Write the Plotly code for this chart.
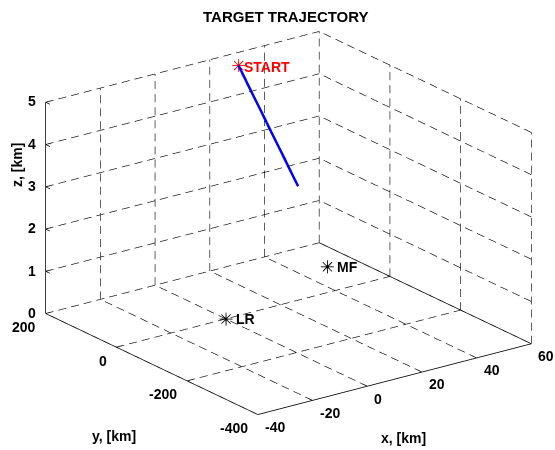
import plotly.graph_objects as go

# ---- data ----
x_ticks = [-40, -20, 0, 20, 40, 60]
y_ticks = [-400, -200, 0, 200]
z_ticks = [0, 1, 2, 3, 4, 5]

traj_x = [24, 20]
traj_y = [150, -50]
traj_z = [5, 3]

radar_names = ["LR", "MF"]
radar_x = [0, 50]
radar_y = [0, 100]
radar_z = [0, 0]

start_label = "START"
title_text = "TARGET TRAJECTORY"
x_title, y_title, z_title = "x, [km]", "y, [km]", "z, [km]"

xmin, xmax = x_ticks[0], x_ticks[-1]
ymin, ymax = y_ticks[0], y_ticks[-1]
zmin, zmax = z_ticks[0], z_ticks[-1]

# approximate on-screen pixels per data unit, used only to space the dashes
PX_PER_UNIT = (2.8, 0.39, 42.0)
DASH_ON, DASH_PERIOD = 8.0, 13.0

gx, gy, gz = [], [], []
def dashed(p, q):
    d = [q[i] - p[i] for i in range(3)]
    L = sum((d[i] * PX_PER_UNIT[i]) ** 2 for i in range(3)) ** 0.5
    n = int(L // DASH_PERIOD) + 1
    for j in range(n):
        t0 = j * DASH_PERIOD / L
        t1 = min((j * DASH_PERIOD + DASH_ON) / L, 1.0)
        if t0 >= 1.0:
            break
        for t in (t0, t1):
            gx.append(p[0] + d[0] * t); gy.append(p[1] + d[1] * t); gz.append(p[2] + d[2] * t)
        gx.append(None); gy.append(None); gz.append(None)

# wall y = ymax
for xv in x_ticks[1:]:
    dashed((xv, ymax, zmin), (xv, ymax, zmax))
for zv in z_ticks:
    dashed((xmin, ymax, zv), (xmax, ymax, zv))
# wall x = xmax
for yv in y_ticks:
    dashed((xmax, yv, zmin), (xmax, yv, zmax))
for zv in z_ticks[1:]:
    dashed((xmax, ymin, zv), (xmax, ymax, zv))
# floor
for xv in x_ticks[1:]:
    dashed((xv, ymin, zmin), (xv, ymax, zmin))
for yv in y_ticks[1:]:
    dashed((xmin, yv, zmin), (xmax, yv, zmin))

# solid axis edges and tick marks
sx, sy, sz = [], [], []
def sseg(p, q):
    sx.extend([p[0], q[0], None]); sy.extend([p[1], q[1], None]); sz.extend([p[2], q[2], None])
sseg((xmin, ymax, zmin), (xmin, ymax, zmax))
sseg((xmin, ymin, zmin), (xmin, ymax, zmin))
sseg((xmin, ymin, zmin), (xmax, ymin, zmin))
sseg((xmax, ymin, zmin), (xmax, ymax, zmin))
TX = 0.02 * (xmax - xmin)
TY = 0.02 * (ymax - ymin)
for zv in z_ticks:
    sseg((xmin, ymax, zv), (xmin + TX, ymax, zv))
    sseg((xmin, ymax, zv), (xmin, ymax - TY, zv))
for yv in y_ticks:
    sseg((xmin, yv, zmin), (xmin + TX, yv, zmin))
for xv in x_ticks:
    sseg((xv, ymin, zmin), (xv, ymin + TY, zmin))

fig = go.Figure()
fig.add_trace(go.Scatter3d(x=gx, y=gy, z=gz, mode="lines", connectgaps=False,
                           line=dict(color="black", width=1.3),
                           hoverinfo="skip", showlegend=False))
fig.add_trace(go.Scatter3d(x=sx, y=sy, z=sz, mode="lines", connectgaps=False,
                           line=dict(color="black", width=1.6),
                           hoverinfo="skip", showlegend=False))
fig.add_trace(go.Scatter3d(x=traj_x, y=traj_y, z=traj_z, mode="lines",
                           line=dict(color="rgb(0,0,255)", width=5),
                           hoverinfo="skip", showlegend=False))
fig.add_trace(go.Scatter3d(x=[traj_x[0]], y=[traj_y[0]], z=[traj_z[0]], mode="text",
                           text=["✳"], textposition="middle center",
                           textfont=dict(color="red", size=18, family="DejaVu Sans"),
                           hoverinfo="skip", showlegend=False))
fig.add_trace(go.Scatter3d(x=radar_x, y=radar_y, z=radar_z, mode="text",
                           text=["✳"] * len(radar_x), textposition="middle center",
                           textfont=dict(color="black", size=18, family="DejaVu Sans"),
                           hoverinfo="skip", showlegend=False))

def ax(lo, hi, tv):
    eps = 0.002 * (hi - lo)
    return dict(range=[lo - eps, hi + eps], tickvals=tv, showticklabels=False,
                showgrid=False, zeroline=False, showline=False, showbackground=False,
                showspikes=False, ticks="", title=dict(text=""))

eye = (-0.5555 * 1.5, -0.7535 * 1.5, 0.351 * 1.5)
S = 1.53

FONT = "Liberation Sans"
lblfont = dict(family=FONT, size=14, color="black", weight="bold")

# tick labels and point labels as scene annotations (anchored to data positions)
scene_ann = []
for zv in z_ticks:
    scene_ann.append(dict(x=xmin, y=ymax, z=zv, text=str(zv), showarrow=False,
                          xanchor="right", yanchor="middle", xshift=-8, yshift=1, font=lblfont))
for yv in y_ticks:
    scene_ann.append(dict(x=xmin, y=yv, z=zmin, text=str(yv), showarrow=False,
                          xanchor="right", yanchor="top", xshift=-8, yshift=-3, font=lblfont))
for xv in x_ticks:
    scene_ann.append(dict(x=xv, y=ymin, z=zmin, text=str(xv), showarrow=False,
                          xanchor="left", yanchor="top", xshift=5, yshift=-2, font=lblfont))
scene_ann.append(dict(x=traj_x[0], y=traj_y[0], z=traj_z[0], text=start_label, showarrow=False,
                      xanchor="left", yanchor="middle", xshift=3, yshift=-2,
                      font=dict(family=FONT, size=14, color="red", weight="bold")))
for nm, xv, yv, zv in zip(radar_names, radar_x, radar_y, radar_z):
    scene_ann.append(dict(x=xv, y=yv, z=zv, text=nm, showarrow=False,
                          xanchor="left", yanchor="middle", xshift=8, yshift=0, font=lblfont))

def ann(text, px, py, size=14, angle=0):
    return dict(text=text, x=px / 555, y=1 - py / 450, xref="paper", yref="paper",
                xanchor="center", yanchor="middle", textangle=angle, showarrow=False,
                font=dict(family=FONT, size=size, color="black", weight="bold"))

fig.update_layout(
    width=555, height=450,
    margin=dict(l=0, r=0, t=0, b=0),
    paper_bgcolor="white",
    scene=dict(
        domain=dict(x=[0.04, 1.0], y=[0.008, 1.0]),
        xaxis=ax(xmin, xmax, x_ticks),
        yaxis=ax(ymin, ymax, y_ticks),
        zaxis=ax(zmin, zmax, z_ticks),
        aspectmode="manual",
        aspectratio=dict(x=1 * S, y=1.052 * S, z=0.664 * S),
        camera=dict(projection=dict(type="orthographic"),
                    eye=dict(x=eye[0], y=eye[1], z=eye[2]),
                    up=dict(x=0, y=0, z=1), center=dict(x=0, y=0, z=0)),
        dragmode=False,
        annotations=scene_ann,
    ),
    annotations=[
        ann(title_text, 286, 16, size=15),
        ann(x_title, 403, 438),
        ann(y_title, 114, 436),
        ann(z_title, 17, 165, angle=-90),
    ],
)

fig.write_html("out.html", config={"displayModeBar": False},
               post_script="document.body.style.margin='0';")
